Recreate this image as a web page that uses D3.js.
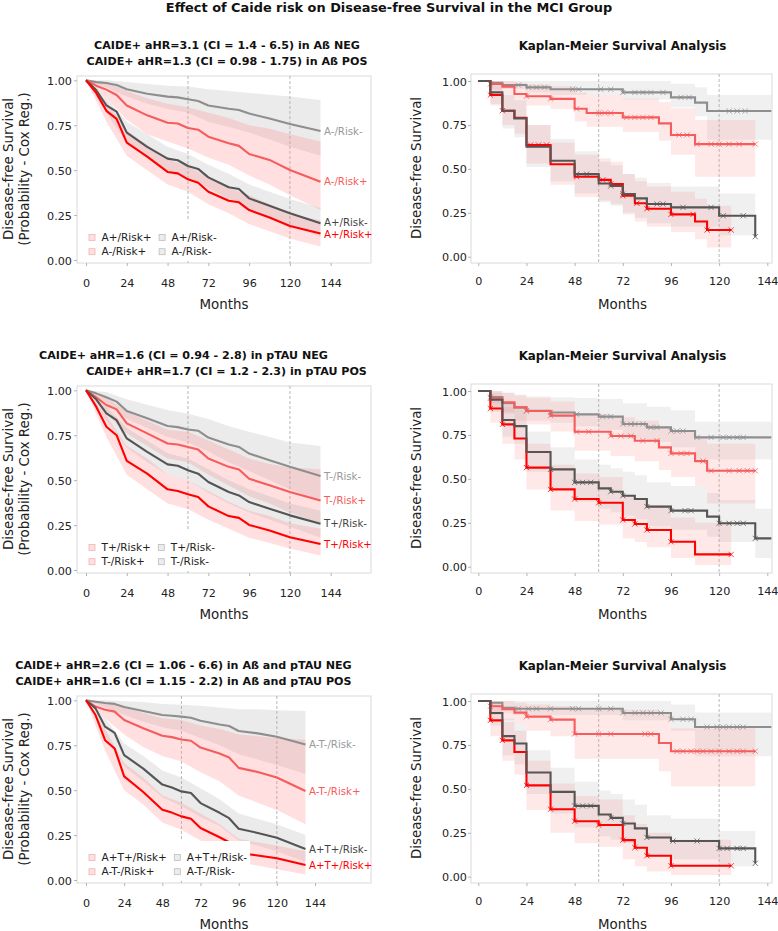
<!DOCTYPE html>
<html><head><meta charset="utf-8">
<script src="https://cdn.jsdelivr.net/npm/d3@7"></script>
<style>body{margin:0;background:#fff;} svg{display:block;font-family:'DejaVu Sans',sans-serif;}</style>
</head><body><svg id="c" width="778" height="931"></svg>
<script>
// ---------------- DATA ----------------
const mainTitle = "Effect of Caide risk on Disease-free Survival in the MCI Group";
const kmTitle = "Kaplan-Meier Survival Analysis";
const xTicks = [0, 24, 48, 72, 96, 120, 144];
const yTicks = [0, 0.25, 0.5, 0.75, 1];
const refMonths = [60, 120];
const xTitle = "Months";
const coxYTitle = ["Disease-free Survival", "(Probability - Cox Reg.)"];
const kmYTitle = "Disease-free Survival";

const subtitlesA = ["CAIDE+ aHR=3.1 (CI = 1.4 - 6.5) in Aß NEG", "CAIDE+ aHR=1.3 (CI = 0.98 - 1.75) in Aß POS"];
const subtitlesT = ["CAIDE+ aHR=1.6 (CI = 0.94 - 2.8) in pTAU NEG", "CAIDE+ aHR=1.7 (CI = 1.2 - 2.3) in pTAU POS"];
const subtitlesAT = ["CAIDE+ aHR=2.6 (CI = 1.06 - 6.6) in Aß and pTAU NEG", "CAIDE+ aHR=1.6 (CI = 1.15 - 2.2) in Aß and pTAU POS"];

// group labels: posHigh, posLow, negHigh, negLow
const labelsA = ["A+/Risk+", "A+/Risk-", "A-/Risk+", "A-/Risk-"];
const labelsT = ["T+/Risk+", "T+/Risk-", "T-/Risk+", "T-/Risk-"];
const labelsAT = ["A+T+/Risk+", "A+T+/Risk-", "A-T-/Risk+", "A-T-/Risk-"];

// Cox adjusted curves
const coxMonths = [0, 6, 12, 18, 24, 36, 48, 54, 60, 66, 72, 84, 90, 96, 108, 120, 138];
const ciMonths = [0, 12, 24, 36, 48, 60, 72, 84, 96, 108, 120, 138];

const coxA_negLow  = [1, 0.99, 0.985, 0.974, 0.95, 0.925, 0.909, 0.905, 0.895, 0.885, 0.86, 0.842, 0.835, 0.815, 0.787, 0.757, 0.718];
const coxA_negHigh = [1, 0.97, 0.948, 0.918, 0.86, 0.805, 0.764, 0.76, 0.735, 0.725, 0.686, 0.65, 0.635, 0.59, 0.557, 0.501, 0.436];
const coxA_posLow  = [1, 0.946, 0.86, 0.826, 0.709, 0.63, 0.564, 0.555, 0.523, 0.507, 0.46, 0.405, 0.395, 0.343, 0.302, 0.26, 0.204];
const coxA_posHigh = [1, 0.93, 0.83, 0.785, 0.653, 0.575, 0.49, 0.482, 0.449, 0.43, 0.38, 0.33, 0.321, 0.278, 0.236, 0.189, 0.148];
const coxA_negLow_lo  = [1, 0.96, 0.91, 0.87, 0.84, 0.82, 0.77, 0.74, 0.71, 0.67, 0.63, 0.58];
const coxA_negLow_hi  = [1, 1, 0.99, 0.98, 0.97, 0.965, 0.95, 0.94, 0.93, 0.92, 0.91, 0.89];
const coxA_negHigh_lo = [1, 0.9, 0.78, 0.7, 0.66, 0.62, 0.57, 0.53, 0.47, 0.42, 0.36, 0.28];
const coxA_negHigh_hi = [1, 0.99, 0.94, 0.9, 0.87, 0.85, 0.82, 0.79, 0.75, 0.73, 0.7, 0.66];
const coxA_posLow_lo  = [1, 0.82, 0.65, 0.57, 0.5, 0.46, 0.4, 0.34, 0.28, 0.23, 0.19, 0.13];
const coxA_posLow_hi  = [1, 0.9, 0.77, 0.7, 0.63, 0.59, 0.53, 0.48, 0.42, 0.38, 0.34, 0.29];
const coxA_posHigh_lo = [1, 0.77, 0.58, 0.5, 0.42, 0.38, 0.31, 0.26, 0.2, 0.16, 0.12, 0.075];
const coxA_posHigh_hi = [1, 0.88, 0.72, 0.64, 0.56, 0.52, 0.46, 0.4, 0.36, 0.31, 0.26, 0.22];

const coxT_negLow  = [1, 0.983, 0.961, 0.937, 0.885, 0.844, 0.801, 0.795, 0.782, 0.775, 0.737, 0.698, 0.685, 0.648, 0.611, 0.574, 0.523];
const coxT_negHigh = [1, 0.961, 0.918, 0.894, 0.816, 0.76, 0.704, 0.698, 0.685, 0.67, 0.62, 0.574, 0.559, 0.508, 0.471, 0.434, 0.387];
const coxT_posLow  = [1, 0.95, 0.872, 0.834, 0.732, 0.657, 0.588, 0.58, 0.555, 0.536, 0.49, 0.434, 0.415, 0.378, 0.341, 0.304, 0.257];
const coxT_posHigh = [1, 0.909, 0.797, 0.75, 0.607, 0.536, 0.449, 0.44, 0.421, 0.406, 0.354, 0.3, 0.29, 0.251, 0.22, 0.182, 0.145];
const coxT_negLow_lo  = [1, 0.93, 0.84, 0.79, 0.74, 0.71, 0.66, 0.6, 0.55, 0.5, 0.45, 0.38];
const coxT_negLow_hi  = [1, 0.99, 0.95, 0.92, 0.89, 0.87, 0.84, 0.8, 0.77, 0.74, 0.71, 0.69];
const coxT_negHigh_lo = [1, 0.87, 0.76, 0.69, 0.62, 0.6, 0.53, 0.47, 0.41, 0.37, 0.32, 0.26];
const coxT_negHigh_hi = [1, 0.96, 0.88, 0.83, 0.78, 0.77, 0.72, 0.67, 0.62, 0.59, 0.57, 0.56];
const coxT_posLow_lo  = [1, 0.83, 0.68, 0.6, 0.53, 0.5, 0.43, 0.37, 0.32, 0.28, 0.24, 0.18];
const coxT_posLow_hi  = [1, 0.91, 0.79, 0.72, 0.65, 0.62, 0.56, 0.5, 0.45, 0.41, 0.37, 0.33];
const coxT_posHigh_lo = [1, 0.74, 0.53, 0.45, 0.37, 0.34, 0.28, 0.23, 0.18, 0.15, 0.12, 0.08];
const coxT_posHigh_hi = [1, 0.86, 0.69, 0.62, 0.53, 0.5, 0.44, 0.38, 0.33, 0.3, 0.26, 0.23];

const coxAT_negLow  = [1, 0.992, 0.985, 0.98, 0.963, 0.94, 0.918, 0.914, 0.909, 0.903, 0.886, 0.865, 0.857, 0.829, 0.816, 0.797, 0.754];
const coxAT_negHigh = [1, 0.965, 0.947, 0.937, 0.89, 0.844, 0.803, 0.795, 0.782, 0.775, 0.737, 0.704, 0.682, 0.624, 0.601, 0.57, 0.495];
const coxAT_posLow  = [1, 0.955, 0.853, 0.819, 0.695, 0.62, 0.531, 0.515, 0.493, 0.484, 0.428, 0.374, 0.344, 0.285, 0.262, 0.235, 0.173];
const coxAT_posHigh = [1, 0.918, 0.778, 0.732, 0.577, 0.49, 0.391, 0.375, 0.354, 0.341, 0.289, 0.238, 0.21, 0.151, 0.136, 0.121, 0.084];
const coxAT_negLow_lo  = [1, 0.96, 0.92, 0.88, 0.85, 0.83, 0.79, 0.75, 0.7, 0.67, 0.64, 0.59];
const coxAT_negLow_hi  = [1, 1, 0.995, 0.99, 0.98, 0.975, 0.97, 0.96, 0.95, 0.95, 0.945, 0.94];
const coxAT_negHigh_lo = [1, 0.9, 0.81, 0.74, 0.69, 0.66, 0.6, 0.55, 0.47, 0.43, 0.39, 0.31];
const coxAT_negHigh_hi = [1, 0.99, 0.96, 0.93, 0.9, 0.89, 0.86, 0.84, 0.81, 0.8, 0.79, 0.78];
const coxAT_posLow_lo  = [1, 0.8, 0.63, 0.55, 0.46, 0.41, 0.35, 0.3, 0.22, 0.19, 0.16, 0.1];
const coxAT_posLow_hi  = [1, 0.9, 0.76, 0.69, 0.61, 0.57, 0.51, 0.45, 0.37, 0.34, 0.31, 0.25];
const coxAT_posHigh_lo = [1, 0.72, 0.5, 0.42, 0.32, 0.28, 0.22, 0.17, 0.1, 0.08, 0.06, 0.03];
const coxAT_posHigh_hi = [1, 0.84, 0.65, 0.57, 0.47, 0.43, 0.37, 0.31, 0.23, 0.21, 0.19, 0.16];

// Kaplan-Meier step curves (t = step months, s = survival, lo/hi = CI, c = censor months)
const kmA_negLow_t = [0, 6, 12, 24, 36, 72, 96, 108, 114, 146];
const kmA_negLow_s = [1, 0.99, 0.977, 0.964, 0.953, 0.935, 0.907, 0.877, 0.829, 0.829];
const kmA_negLow_lo = [1, 0.975, 0.955, 0.935, 0.92, 0.895, 0.85, 0.8, 0.665, 0.665];
const kmA_negLow_hi = [1, 1, 1, 1, 1, 1, 0.985, 0.965, 0.92, 0.92];
const kmA_negLow_c = [20, 25, 29, 33, 47, 50, 61, 66, 72, 78, 82, 86, 92, 101, 105, 125, 129, 133];

const kmA_negHigh_t = [0, 6, 12, 18, 24, 36, 48, 54, 72, 90, 96, 108, 138];
const kmA_negHigh_s = [1, 0.983, 0.968, 0.926, 0.913, 0.898, 0.842, 0.818, 0.793, 0.759, 0.693, 0.641, 0.641];
const kmA_negHigh_lo = [1, 0.95, 0.93, 0.88, 0.86, 0.84, 0.77, 0.74, 0.71, 0.66, 0.58, 0.455, 0.455];
const kmA_negHigh_hi = [1, 1, 1, 0.99, 0.98, 0.97, 0.935, 0.92, 0.9, 0.88, 0.845, 0.778, 0.778];
const kmA_negHigh_c = [6, 24, 36, 49, 60, 63, 66, 74, 78, 82, 86, 100, 104, 109, 116, 120, 125, 130, 138];

const kmA_posHigh_t = [0, 6, 12, 18, 24, 36, 48, 60, 66, 72, 78, 84, 96, 108, 114, 126];
const kmA_posHigh_s = [1, 0.92, 0.831, 0.79, 0.636, 0.526, 0.455, 0.437, 0.414, 0.347, 0.304, 0.273, 0.241, 0.2, 0.152, 0.152];
const kmA_posHigh_lo = [1, 0.86, 0.75, 0.7, 0.53, 0.41, 0.34, 0.32, 0.3, 0.24, 0.2, 0.17, 0.14, 0.1, 0.053, 0.053];
const kmA_posHigh_hi = [1, 0.97, 0.92, 0.88, 0.75, 0.65, 0.58, 0.56, 0.54, 0.47, 0.43, 0.4, 0.37, 0.33, 0.29, 0.29];
const kmA_posHigh_c = [6, 12, 26, 30, 34, 49, 62, 66, 72, 79, 84, 96, 107, 114, 126];

const kmA_posLow_t = [0, 6, 12, 18, 24, 36, 48, 60, 66, 72, 78, 84, 96, 120, 138];
const kmA_posLow_s = [1, 0.935, 0.831, 0.787, 0.626, 0.546, 0.47, 0.417, 0.402, 0.357, 0.332, 0.3, 0.281, 0.233, 0.114];
const kmA_posLow_lo = [1, 0.87, 0.73, 0.68, 0.51, 0.43, 0.36, 0.31, 0.29, 0.25, 0.22, 0.19, 0.17, 0.12, 0.02];
const kmA_posLow_hi = [1, 0.99, 0.93, 0.89, 0.75, 0.67, 0.6, 0.54, 0.52, 0.47, 0.45, 0.42, 0.4, 0.36, 0.33];
const kmA_posLow_c = [49, 54, 66, 72, 89, 92, 102, 116, 122, 132, 138];

const kmT_negLow_t = [0, 6, 12, 18, 24, 36, 48, 60, 72, 84, 96, 108, 146];
const kmT_negLow_s = [1, 0.965, 0.93, 0.907, 0.888, 0.878, 0.867, 0.854, 0.812, 0.793, 0.772, 0.736, 0.736];
const kmT_negLow_lo = [1, 0.93, 0.88, 0.85, 0.83, 0.82, 0.8, 0.78, 0.73, 0.71, 0.68, 0.61, 0.61];
const kmT_negLow_hi = [1, 1, 0.99, 0.98, 0.97, 0.965, 0.96, 0.955, 0.93, 0.91, 0.89, 0.825, 0.825];
const kmT_negLow_c = [6, 24, 36, 49, 62, 66, 72, 76, 78, 82, 86, 89, 96, 99, 102, 109, 116, 122, 125, 129, 132];

const kmT_negHigh_t = [0, 6, 12, 18, 24, 36, 48, 66, 78, 90, 96, 108, 114, 138];
const kmT_negHigh_s = [1, 0.958, 0.935, 0.907, 0.886, 0.86, 0.768, 0.744, 0.717, 0.679, 0.645, 0.601, 0.546, 0.546];
const kmT_negHigh_lo = [1, 0.9, 0.87, 0.83, 0.81, 0.77, 0.66, 0.63, 0.6, 0.55, 0.51, 0.46, 0.36, 0.36];
const kmT_negHigh_hi = [1, 1, 0.99, 0.975, 0.96, 0.94, 0.87, 0.85, 0.83, 0.8, 0.77, 0.73, 0.7, 0.7];
const kmT_negHigh_c = [6, 24, 36, 49, 55, 66, 71, 76, 82, 89, 96, 101, 104, 112, 116, 125, 130, 134, 138];

const kmT_posHigh_t = [0, 6, 12, 18, 24, 36, 48, 60, 72, 78, 84, 96, 108, 126];
const kmT_posHigh_s = [1, 0.9, 0.81, 0.73, 0.564, 0.44, 0.385, 0.364, 0.266, 0.243, 0.209, 0.142, 0.07, 0.07];
const kmT_posHigh_lo = [1, 0.82, 0.7, 0.61, 0.44, 0.32, 0.26, 0.24, 0.16, 0.14, 0.11, 0.05, 0.01, 0.01];
const kmT_posHigh_hi = [1, 0.97, 0.91, 0.85, 0.7, 0.58, 0.53, 0.51, 0.41, 0.39, 0.35, 0.28, 0.25, 0.25];
const kmT_posHigh_c = [6, 12, 24, 36, 48, 60, 72, 78, 84, 96, 126];

const kmT_posLow_t = [0, 6, 12, 18, 24, 36, 48, 60, 66, 72, 78, 84, 96, 114, 120, 138, 146];
const kmT_posLow_s = [1, 0.95, 0.835, 0.8, 0.653, 0.554, 0.48, 0.446, 0.427, 0.404, 0.385, 0.342, 0.319, 0.285, 0.247, 0.161, 0.161];
const kmT_posLow_lo = [1, 0.88, 0.74, 0.7, 0.54, 0.44, 0.37, 0.33, 0.31, 0.29, 0.27, 0.23, 0.21, 0.17, 0.14, 0.05, 0.05];
const kmT_posLow_hi = [1, 0.99, 0.92, 0.9, 0.77, 0.68, 0.61, 0.58, 0.56, 0.54, 0.52, 0.48, 0.46, 0.42, 0.38, 0.33, 0.33];
const kmT_posLow_c = [36, 48, 52, 56, 66, 72, 84, 96, 103, 106, 120, 125, 129, 132, 138];

const kmAT_negLow_t = [0, 6, 12, 18, 72, 96, 108, 146];
const kmAT_negLow_s = [1, 0.99, 0.962, 0.956, 0.932, 0.896, 0.852, 0.852];
const kmAT_negLow_lo = [1, 0.97, 0.93, 0.92, 0.89, 0.83, 0.685, 0.685];
const kmAT_negLow_hi = [1, 1, 1, 1, 1, 0.98, 0.935, 0.935];
const kmAT_negLow_c = [20, 25, 29, 36, 47, 50, 60, 66, 72, 78, 82, 86, 91, 96, 102, 106, 114, 119, 122, 125, 129, 132];

const kmAT_negHigh_t = [0, 6, 12, 18, 24, 36, 48, 90, 96, 138];
const kmAT_negHigh_s = [1, 0.97, 0.953, 0.934, 0.911, 0.894, 0.8125, 0.761, 0.714, 0.714];
const kmAT_negHigh_lo = [1, 0.92, 0.89, 0.87, 0.83, 0.8, 0.672, 0.6, 0.515, 0.515];
const kmAT_negHigh_hi = [1, 1, 1, 0.99, 0.98, 0.97, 0.95, 0.93, 0.845, 0.845];
const kmAT_negHigh_c = [6, 24, 36, 48, 60, 66, 83, 86, 99, 102, 106, 109, 112, 116, 120, 125, 129, 132, 138];

const kmAT_posHigh_t = [0, 6, 12, 18, 24, 36, 48, 60, 72, 78, 84, 96, 126];
const kmAT_posHigh_s = [1, 0.89, 0.776, 0.71, 0.52, 0.384, 0.316, 0.294, 0.208, 0.165, 0.119, 0.0625, 0.0625];
const kmAT_posHigh_lo = [1, 0.8, 0.66, 0.58, 0.38, 0.25, 0.19, 0.17, 0.1, 0.06, 0.03, 0.01, 0.01];
const kmAT_posHigh_hi = [1, 0.96, 0.88, 0.83, 0.66, 0.53, 0.46, 0.44, 0.35, 0.3, 0.25, 0.21, 0.21];
const kmAT_posHigh_c = [6, 12, 24, 36, 48, 60, 72, 78, 84, 96, 126];

const kmAT_posLow_t = [0, 6, 12, 18, 24, 36, 48, 60, 66, 72, 78, 84, 96, 120, 138];
const kmAT_posLow_s = [1, 0.932, 0.8, 0.758, 0.593, 0.483, 0.403, 0.354, 0.335, 0.303, 0.275, 0.223, 0.203, 0.161, 0.076];
const kmAT_posLow_lo = [1, 0.86, 0.69, 0.64, 0.47, 0.36, 0.28, 0.23, 0.21, 0.19, 0.16, 0.12, 0.1, 0.06, 0.02];
const kmAT_posLow_hi = [1, 0.99, 0.9, 0.87, 0.72, 0.62, 0.54, 0.49, 0.47, 0.44, 0.41, 0.35, 0.33, 0.26, 0.25];
const kmAT_posLow_c = [48, 52, 56, 66, 72, 84, 97, 109, 120, 124, 129, 132, 138];

// ---------------- LOOKUPS built from the arrays ----------------
const coxSets = {
  A:  {negLow: [coxA_negLow, coxA_negLow_lo, coxA_negLow_hi], negHigh: [coxA_negHigh, coxA_negHigh_lo, coxA_negHigh_hi],
       posLow: [coxA_posLow, coxA_posLow_lo, coxA_posLow_hi], posHigh: [coxA_posHigh, coxA_posHigh_lo, coxA_posHigh_hi]},
  T:  {negLow: [coxT_negLow, coxT_negLow_lo, coxT_negLow_hi], negHigh: [coxT_negHigh, coxT_negHigh_lo, coxT_negHigh_hi],
       posLow: [coxT_posLow, coxT_posLow_lo, coxT_posLow_hi], posHigh: [coxT_posHigh, coxT_posHigh_lo, coxT_posHigh_hi]},
  AT: {negLow: [coxAT_negLow, coxAT_negLow_lo, coxAT_negLow_hi], negHigh: [coxAT_negHigh, coxAT_negHigh_lo, coxAT_negHigh_hi],
       posLow: [coxAT_posLow, coxAT_posLow_lo, coxAT_posLow_hi], posHigh: [coxAT_posHigh, coxAT_posHigh_lo, coxAT_posHigh_hi]}
};
const kmSets = {
  A:  {negLow: [kmA_negLow_t, kmA_negLow_s, kmA_negLow_lo, kmA_negLow_hi, kmA_negLow_c],
       negHigh: [kmA_negHigh_t, kmA_negHigh_s, kmA_negHigh_lo, kmA_negHigh_hi, kmA_negHigh_c],
       posHigh: [kmA_posHigh_t, kmA_posHigh_s, kmA_posHigh_lo, kmA_posHigh_hi, kmA_posHigh_c],
       posLow: [kmA_posLow_t, kmA_posLow_s, kmA_posLow_lo, kmA_posLow_hi, kmA_posLow_c]},
  T:  {negLow: [kmT_negLow_t, kmT_negLow_s, kmT_negLow_lo, kmT_negLow_hi, kmT_negLow_c],
       negHigh: [kmT_negHigh_t, kmT_negHigh_s, kmT_negHigh_lo, kmT_negHigh_hi, kmT_negHigh_c],
       posHigh: [kmT_posHigh_t, kmT_posHigh_s, kmT_posHigh_lo, kmT_posHigh_hi, kmT_posHigh_c],
       posLow: [kmT_posLow_t, kmT_posLow_s, kmT_posLow_lo, kmT_posLow_hi, kmT_posLow_c]},
  AT: {negLow: [kmAT_negLow_t, kmAT_negLow_s, kmAT_negLow_lo, kmAT_negLow_hi, kmAT_negLow_c],
       negHigh: [kmAT_negHigh_t, kmAT_negHigh_s, kmAT_negHigh_lo, kmAT_negHigh_hi, kmAT_negHigh_c],
       posHigh: [kmAT_posHigh_t, kmAT_posHigh_s, kmAT_posHigh_lo, kmAT_posHigh_hi, kmAT_posHigh_c],
       posLow: [kmAT_posLow_t, kmAT_posLow_s, kmAT_posLow_lo, kmAT_posLow_hi, kmAT_posLow_c]}
};

// ---------------- STYLE ----------------
const styles = {
  posHigh: {line: "#ff0000", fill: "#ff8c8c", text: "#ff0000", keyFill: "#fde0e0", keyStroke: "#f2b3b3"},
  negHigh: {line: "#f65c5c", fill: "#ff8c8c", text: "#f65c5c", keyFill: "#fde0e0", keyStroke: "#f2b3b3"},
  posLow:  {line: "#555555", fill: "#a3a3a3", text: "#444444", keyFill: "#ececec", keyStroke: "#bdbdbd"},
  negLow:  {line: "#8e8e8e", fill: "#a3a3a3", text: "#999999", keyFill: "#ececec", keyStroke: "#bdbdbd"}
};
const order = ["negLow", "negHigh", "posLow", "posHigh"];
const labelIndex = {posHigh: 0, posLow: 1, negHigh: 2, negLow: 3};
const FS_TICK = 11.2, FS_AXIS = 13.4, FS_TITLE = 12.9, FS_SUB = 11.1, FS_KM = 11.9, FS_LEG = 10.5, FS_LAB = 10.2;

const svg = d3.select("#c");

svg.append("text").attr("x", 389).attr("y", 12).attr("text-anchor", "middle")
  .attr("font-size", FS_TITLE).attr("font-weight", "bold").attr("fill", "#111").text(mainTitle);

function panelFrame(g, x, y, px0, px1, py0, py1, xTickY, yTickX) {
  g.append("rect").attr("x", px0).attr("y", py0).attr("width", px1 - px0).attr("height", py1 - py0)
    .attr("fill", "#fff").attr("stroke", "#dadada").attr("stroke-width", 1);
  refMonths.forEach(m => {
    g.append("line").attr("x1", x(m)).attr("x2", x(m)).attr("y1", py0).attr("y2", py1)
      .attr("stroke", "#9a9a9a").attr("stroke-width", 0.7).attr("stroke-dasharray", "3,2");
  });
  const ax = g.append("g").attr("transform", `translate(0,${py1})`)
    .call(d3.axisBottom(x).tickValues(xTicks).tickSize(3).tickFormat(d3.format("d")));
  ax.select(".domain").remove();
  ax.selectAll(".tick line").attr("stroke", "#b5b5b5");
  ax.selectAll(".tick text").attr("y", xTickY).attr("dy", null).attr("font-size", FS_TICK)
    .attr("font-family", "'DejaVu Sans',sans-serif").attr("fill", "#222");
  const ay = g.append("g").attr("transform", `translate(${px0},0)`)
    .call(d3.axisLeft(y).tickValues(yTicks).tickSize(3).tickFormat(d3.format(".2f")));
  ay.select(".domain").remove();
  ay.selectAll(".tick line").attr("stroke", "#b5b5b5");
  ay.selectAll(".tick text").attr("x", -yTickX).attr("dy", "0.36em").attr("font-size", FS_TICK)
    .attr("font-family", "'DejaVu Sans',sans-serif").attr("fill", "#222");
}

function drawCox(row, key, labels, subtitles, subX, x144) {
  const oy = row * 310;
  const px0 = 77, px1 = 371, py0 = 76 + oy, py1 = 263 + oy;
  const x = d3.scaleLinear().domain([0, 144]).range([86, x144]);
  const y = d3.scaleLinear().domain([0, 1]).range([260 + oy, 80.3 + oy]);
  const g = svg.append("g");
  panelFrame(g, x, y, px0, px1, py0, py1, 23.5, 5);

  const groups = order.map(k => ({
    key: k, vals: coxSets[key][k][0], lo: coxSets[key][k][1], hi: coxSets[key][k][2],
    label: labels[labelIndex[k]]
  }));
  const area = d3.area().x((d, i) => x(ciMonths[i])).y0(d => y(d[0])).y1(d => y(d[1]));
  groups.forEach(gr => {
    const pts = gr.lo.map((v, i) => [v, gr.hi[i]]);
    g.append("path").attr("d", area(pts)).attr("fill", styles[gr.key].fill)
      .attr("fill-opacity", gr.key.endsWith("High") ? 0.28 : 0.22);
  });
  const line = d3.line().x((d, i) => x(coxMonths[i])).y(d => y(d));
  groups.forEach(gr => {
    g.append("path").attr("d", line(gr.vals)).attr("fill", "none")
      .attr("stroke", styles[gr.key].line).attr("stroke-width", 2.1).attr("stroke-linejoin", "round");
  });
  const lastM = coxMonths[coxMonths.length - 1];
  const labs = groups.map(gr => ({key: gr.key, label: gr.label, y: y(gr.vals[gr.vals.length - 1])}))
    .sort((a, b) => a.y - b.y);
  for (let it = 0; it < 20; it++) {
    for (let i = 1; i < labs.length; i++) {
      const d = labs[i].y - labs[i - 1].y;
      if (d < 12.5) { const s = (12.5 - d) / 2; labs[i].y += s; labs[i - 1].y -= s; }
    }
  }
  labs.forEach(l => {
    g.append("text").attr("x", x(lastM) + 3.5).attr("y", l.y).attr("dy", "0.36em")
      .attr("font-size", FS_LAB).attr("fill", styles[l.key].text).text(l.label);
  });
  // legend
  const lg = g.append("g");
  const bg = lg.append("rect").attr("fill", "#fff");
  const rows = [["posHigh", "posLow"], ["negHigh", "negLow"]];
  const rowY = [237.5 + oy, 251.7 + oy];
  const col1Text = [];
  rows.forEach((r, ri) => {
    const k = r[0];
    lg.append("rect").attr("x", 89).attr("y", rowY[ri] - 3).attr("width", 6).attr("height", 6)
      .attr("fill", styles[k].keyFill).attr("stroke", styles[k].keyStroke).attr("stroke-width", 0.8);
    col1Text.push(lg.append("text").attr("x", 101.5).attr("y", rowY[ri]).attr("dy", "0.36em")
      .attr("font-size", FS_LEG).attr("fill", "#222").text(labels[labelIndex[k]]));
  });
  const w1 = d3.max(col1Text, t => t.node().getComputedTextLength());
  const c2 = 101.5 + w1 + 7.5;
  let maxEnd = 0;
  rows.forEach((r, ri) => {
    const k = r[1];
    lg.append("rect").attr("x", c2).attr("y", rowY[ri] - 3).attr("width", 6).attr("height", 6)
      .attr("fill", styles[k].keyFill).attr("stroke", styles[k].keyStroke).attr("stroke-width", 0.8);
    const t = lg.append("text").attr("x", c2 + 12.5).attr("y", rowY[ri]).attr("dy", "0.36em")
      .attr("font-size", FS_LEG).attr("fill", "#222").text(labels[labelIndex[k]]);
    maxEnd = Math.max(maxEnd, c2 + 12.5 + t.node().getComputedTextLength());
  });
  bg.attr("x", 82).attr("y", 221 + oy).attr("width", maxEnd + 3 - 82).attr("height", 40);

  svg.append("text").attr("x", subX[0]).attr("y", 49 + oy).attr("text-anchor", "middle")
    .attr("font-size", FS_SUB).attr("font-weight", "bold").attr("fill", "#111").text(subtitles[0]);
  svg.append("text").attr("x", subX[1]).attr("y", 65 + oy).attr("text-anchor", "middle")
    .attr("font-size", FS_SUB).attr("font-weight", "bold").attr("fill", "#111").text(subtitles[1]);
  svg.append("text").attr("x", (px0 + px1) / 2).attr("y", 308.5 + oy).attr("text-anchor", "middle")
    .attr("font-size", FS_AXIS).attr("fill", "#222").text(xTitle);
  coxYTitle.forEach((t, i) => {
    svg.append("text").attr("transform", `translate(${i === 0 ? 13 : 28.5},${169 + oy}) rotate(-90)`)
      .attr("text-anchor", "middle").attr("font-size", FS_AXIS).attr("fill", "#222").text(t);
  });
}

function drawKM(row, key) {
  const oy = row * 310;
  const px0 = 471, px1 = 772, py0 = 74 + oy, py1 = 263 + oy;
  const x = d3.scaleLinear().domain([0, 144]).range([478.3, 767.3]);
  const y = d3.scaleLinear().domain([0, 1]).range([256.7 + oy, 81 + oy]);
  const g = svg.append("g");
  panelFrame(g, x, y, px0, px1, py0, py1, 22, 4);
  const kmOrder = ["negLow", "negHigh", "posHigh", "posLow"];
  const groups = kmOrder.map(k => {
    const s = kmSets[key][k];
    return {key: k, t: s[0], s: s[1], lo: s[2], hi: s[3], c: s[4]};
  });
  groups.forEach(gr => {
    const area = d3.area().curve(d3.curveStepAfter).x((d, i) => x(gr.t[i])).y0(d => y(d[0])).y1(d => y(d[1]));
    const pts = gr.lo.map((v, i) => [v, gr.hi[i]]);
    g.append("path").attr("d", area(pts)).attr("fill", styles[gr.key].fill)
      .attr("fill-opacity", gr.key.endsWith("High") ? 0.2 : 0.16);
  });
  groups.forEach(gr => {
    const line = d3.line().curve(d3.curveStepAfter).x((d, i) => x(gr.t[i])).y(d => y(d));
    g.append("path").attr("d", line(gr.s)).attr("fill", "none")
      .attr("stroke", styles[gr.key].line).attr("stroke-width", 2.1);
    const stepVal = m => { let v = gr.s[0]; for (let i = 0; i < gr.t.length; i++) if (gr.t[i] <= m) v = gr.s[i]; return v; };
    gr.c.forEach(m => {
      const cx = x(m), cy = y(stepVal(m)), r = 2.6;
      g.append("path").attr("d", `M${cx - r},${cy - r}L${cx + r},${cy + r}M${cx - r},${cy + r}L${cx + r},${cy - r}`)
        .attr("stroke", styles[gr.key].line).attr("stroke-width", 0.9).attr("fill", "none").attr("opacity", 0.85);
    });
  });
  svg.append("text").attr("x", 622.5).attr("y", 50 + oy).attr("text-anchor", "middle")
    .attr("font-size", FS_KM).attr("font-weight", "bold").attr("fill", "#111").text(kmTitle);
  svg.append("text").attr("x", 622.5).attr("y", 308.5 + oy).attr("text-anchor", "middle")
    .attr("font-size", FS_AXIS).attr("fill", "#222").text(xTitle);
  svg.append("text").attr("transform", `translate(421,${168 + oy}) rotate(-90)`)
    .attr("text-anchor", "middle").attr("font-size", FS_AXIS).attr("fill", "#222").text(kmYTitle);
}

drawCox(0, "A", labelsA, subtitlesA, [227, 227], 330.7);
drawCox(1, "T", labelsT, subtitlesT, [183.5, 226.5], 330.7);
drawCox(2, "AT", labelsAT, subtitlesAT, [183.5, 183.5], 315);
drawKM(0, "A");
drawKM(1, "T");
drawKM(2, "AT");
</script></body></html>
